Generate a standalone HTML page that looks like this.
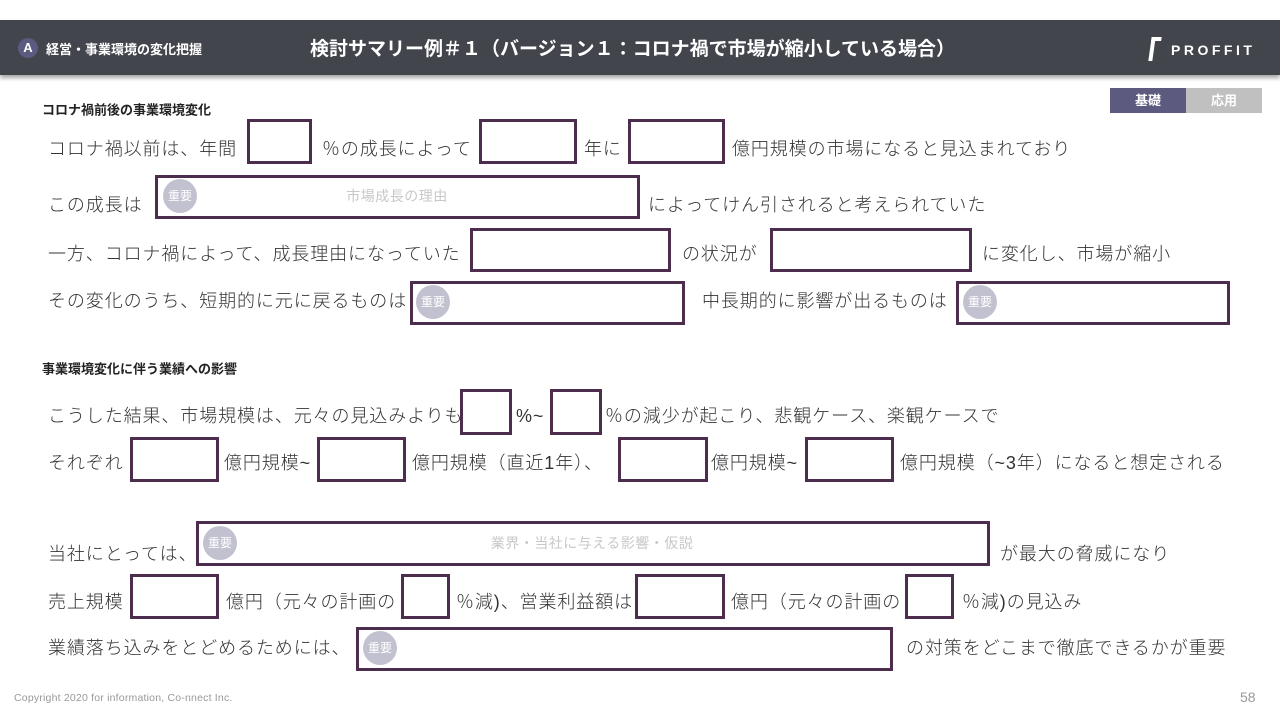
<!DOCTYPE html>
<html><head><meta charset="utf-8">
<style>
body{margin:0;width:1280px;height:720px;position:relative;background:#fff;overflow:hidden;font-family:"Liberation Sans","Noto Sans CJK JP",sans-serif;}
.hdr{position:absolute;left:0;top:20px;width:1280px;height:55px;background:#43454d;box-shadow:0 3px 4px rgba(0,0,0,.35);}
.t{position:absolute;font-size:18px;color:#333;white-space:nowrap;line-height:24px;transform:translateY(-11px);letter-spacing:0.9px;font-weight:300;}
.b{position:absolute;border:3px solid #4d2d4e;box-sizing:border-box;}
.badge{position:absolute;width:34px;height:34px;border-radius:50%;background:#c2c1d0;color:#fff;font-size:12px;line-height:34px;text-align:center;transform:translate(-17px,-17px);}
.ph{position:absolute;color:#c8c8c8;font-size:14px;white-space:nowrap;transform:translate(-50%,-50%);letter-spacing:0.5px;}
.sec{position:absolute;font-size:13px;font-weight:bold;color:#222;transform:translateY(-50%);}
</style></head><body>
<div class="hdr"></div>
<div style="position:absolute;left:18px;top:38px;width:20px;height:20px;border-radius:50%;background:#5c5a80;color:#fff;font-size:13px;line-height:20px;text-align:center;font-weight:bold">A</div>
<div style="position:absolute;left:46px;top:39px;color:#fff;font-size:13px;font-weight:bold">経営・事業環境の変化把握</div>
<div style="position:absolute;left:310px;top:34px;color:#fff;font-size:19px;font-weight:bold;white-space:nowrap">検討サマリー例＃１（バージョン１：コロナ禍で市場が縮小している場合）</div>
<div style="position:absolute;left:1150px;top:37px;width:10px;height:24px;border-left:4px solid #fff;border-top:4px solid #fff;box-sizing:border-box;transform:skewX(-8deg)"></div>
<div style="position:absolute;left:1171px;top:42px;color:#fff;font-size:14px;font-weight:bold;letter-spacing:3.5px">PROFFIT</div>
<div style="position:absolute;left:1110px;top:88px;width:76px;height:25px;background:#5c5a7e;color:#fff;font-size:13px;font-weight:bold;text-align:center;line-height:25px">基礎</div>
<div style="position:absolute;left:1186px;top:88px;width:76px;height:25px;background:#c0c0c0;color:#fff;font-size:13px;font-weight:bold;text-align:center;line-height:25px">応用</div>

<div class="sec" style="left:42px;top:109px">コロナ禍前後の事業環境変化</div>
<div class="t" style="left:48px;top:148px">コロナ禍以前は、年間</div>
<div class="b" style="left:247px;top:119px;width:65px;height:45px"></div>
<div class="t" style="left:322px;top:148px">％の成長によって</div>
<div class="b" style="left:479px;top:119px;width:98px;height:45px"></div>
<div class="t" style="left:584px;top:148px">年に</div>
<div class="b" style="left:628px;top:119px;width:97px;height:45px"></div>
<div class="t" style="left:732px;top:148px">億円規模の市場になると見込まれており</div>

<div class="t" style="left:48px;top:204px">この成長は</div>
<div class="b" style="left:155px;top:175px;width:485px;height:44px"></div>
<div class="badge" style="left:180px;top:196px">重要</div>
<div class="ph" style="left:397px;top:196px">市場成長の理由</div>
<div class="t" style="left:648px;top:204px">によってけん引されると考えられていた</div>

<div class="t" style="left:48px;top:253px">一方、コロナ禍によって、成長理由になっていた</div>
<div class="b" style="left:470px;top:228px;width:201px;height:44px"></div>
<div class="t" style="left:682px;top:253px">の状況が</div>
<div class="b" style="left:770px;top:228px;width:202px;height:44px"></div>
<div class="t" style="left:982px;top:253px">に変化し、市場が縮小</div>

<div class="t" style="left:48px;top:300px">その変化のうち、短期的に元に戻るものは</div>
<div class="b" style="left:410px;top:281px;width:275px;height:44px"></div>
<div class="badge" style="left:433px;top:302px">重要</div>
<div class="t" style="left:702px;top:300px">中長期的に影響が出るものは</div>
<div class="b" style="left:956px;top:281px;width:274px;height:44px"></div>
<div class="badge" style="left:980px;top:302px">重要</div>

<div class="sec" style="left:42px;top:368px">事業環境変化に伴う業績への影響</div>
<div class="t" style="left:48px;top:415px">こうした結果、市場規模は、元々の見込みよりも</div>
<div class="b" style="left:460px;top:389px;width:52px;height:46px"></div>
<div class="t" style="left:516px;top:415px">%~</div>
<div class="b" style="left:550px;top:389px;width:52px;height:46px"></div>
<div class="t" style="left:605px;top:415px">％の減少が起こり、悲観ケース、楽観ケースで</div>

<div class="t" style="left:48px;top:462px">それぞれ</div>
<div class="b" style="left:130px;top:437px;width:89px;height:45px"></div>
<div class="t" style="left:224px;top:462px">億円規模~</div>
<div class="b" style="left:317px;top:437px;width:89px;height:45px"></div>
<div class="t" style="left:412px;top:462px">億円規模（直近1年）、</div>
<div class="b" style="left:618px;top:437px;width:90px;height:45px"></div>
<div class="t" style="left:711px;top:462px">億円規模~</div>
<div class="b" style="left:805px;top:437px;width:89px;height:45px"></div>
<div class="t" style="left:900px;top:462px">億円規模（~3年）になると想定される</div>

<div class="t" style="left:48px;top:553px">当社にとっては、</div>
<div class="b" style="left:196px;top:521px;width:794px;height:45px"></div>
<div class="badge" style="left:220px;top:543px">重要</div>
<div class="ph" style="left:592px;top:543px">業界・当社に与える影響・仮説</div>
<div class="t" style="left:1000px;top:553px">が最大の脅威になり</div>

<div class="t" style="left:48px;top:601px">売上規模</div>
<div class="b" style="left:130px;top:574px;width:89px;height:45px"></div>
<div class="t" style="left:226px;top:601px">億円（元々の計画の</div>
<div class="b" style="left:401px;top:574px;width:49px;height:45px"></div>
<div class="t" style="left:456px;top:601px">％減)、営業利益額は</div>
<div class="b" style="left:635px;top:574px;width:90px;height:45px"></div>
<div class="t" style="left:731px;top:601px">億円（元々の計画の</div>
<div class="b" style="left:905px;top:574px;width:49px;height:45px"></div>
<div class="t" style="left:962px;top:601px">％減)の見込み</div>

<div class="t" style="left:48px;top:647px">業績落ち込みをとどめるためには、</div>
<div class="b" style="left:356px;top:627px;width:537px;height:44px"></div>
<div class="badge" style="left:380px;top:648px">重要</div>
<div class="t" style="left:906px;top:647px">の対策をどこまで徹底できるかが重要</div>

<div style="position:absolute;left:14px;top:692px;font-size:10.5px;color:#999;letter-spacing:0.2px">Copyright 2020 for information, Co-nnect Inc.</div>
<div style="position:absolute;left:1240px;top:689px;font-size:14px;color:#999">58</div>
</body></html>
